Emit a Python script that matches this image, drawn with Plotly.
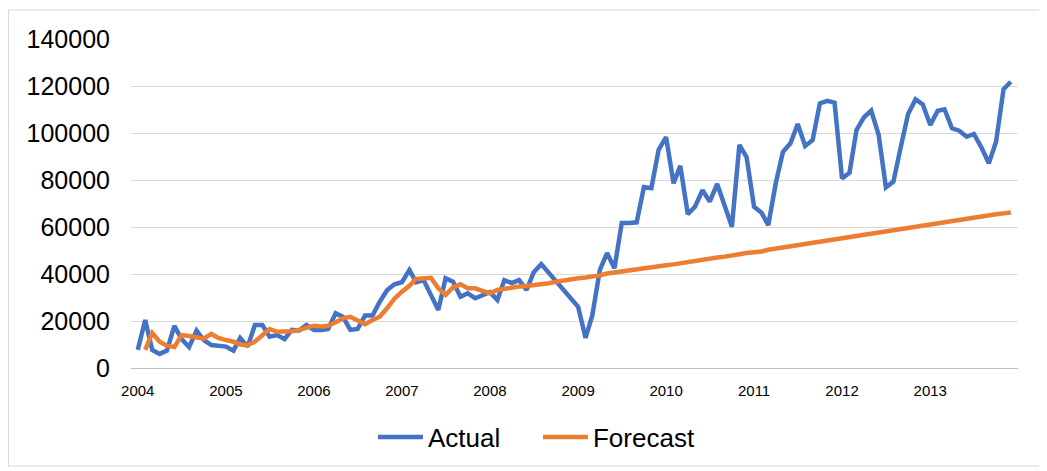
import plotly.graph_objects as go
import pandas as pd

months = pd.date_range("2004-01-01", periods=120, freq="MS").strftime("%Y-%m-%d").tolist()

actual = [
    7700, 20400, 7700, 6000, 7400, 17900, 12300, 8900, 15900, 11900, 9800, 9400,
    9100, 7400, 12800, 9100, 18300, 18300, 13300, 14000, 12300, 16200, 16000, 18300,
    16200, 16200, 16600, 23300, 21800, 16200, 16600, 22300, 22300, 28200, 33200, 35600,
    36500, 41700, 36500, 37400, 31100, 24700, 38200, 36700, 30300, 31800, 29700, 31100,
    32300, 28900, 37400, 36100, 37400, 33200, 40800, 44200, 40400, 37000, 33200, 29800,
    26000, 12800, 22500, 41700, 48900, 42500, 61700, 61700, 62000, 77000, 76500, 92800,
    98200, 78600, 86000, 65500, 68600, 75700, 70800, 78300, 69400, 60100, 94900, 89700,
    68600, 66100, 60800, 78600, 92000, 95600, 103800, 94500, 97000, 112600, 113700, 112900,
    80700, 83100, 101300, 106700, 109500, 99100, 76900, 79300, 94200, 108100, 114300, 112200,
    103400, 109500, 110100, 102000, 101000, 98400, 99600, 93900, 87100, 96300, 118600, 121800,
]

forecast = [
    None, 7700, 14900, 11200, 9500, 8900, 14000, 13600, 13000, 12500, 14500, 12800,
    11900, 11200, 10000, 9800, 11200, 14000, 16600, 15400, 15400, 15600, 16200, 17000,
    18000, 17700, 18000, 19500, 21100, 21800, 20400, 18600, 20400, 21800, 25500, 29500,
    32500, 35000, 37900, 38200, 38400, 33900, 31100, 34300, 35600, 33900, 33900, 32800,
    31800, 33200, 33800, 34300, 34700, 34900, 35200, 35500, 36100, 36700, 37300, 37800,
    38200, 38500, 38800, 39400, 40200, 40700, 41200, 41700, 42000, 42400, 42900, 43400,
    43700, 44100, 44600, 45100, 45400, 45800, 46500, 47000, 47400, 48100, 48400, 48900,
    49100, 49600, 50300, 50800, 51300, 51900, 52300, 52600, 53200, 53700, 54300, 54800,
    55400, 55800, 56000, 56600, 57300, 57900, 58400, 58900, 59300, 59500, 60100, 60800,
    61400, 61900, 62300, 62600, 63000, 63600, 64100, 64500, 64900, 65400, 65800, 66200,
]

y_ticks = [0, 20000, 40000, 60000, 80000, 100000, 120000, 140000]

BLUE = "#4472C4"
ORANGE = "#ED7D31"
FONT = "Liberation Sans, Arial, sans-serif"

fig = go.Figure()
fig.add_trace(go.Scatter(x=months, y=actual, mode="lines", name="Actual",
                         line=dict(color=BLUE, width=4.5)))
fig.add_trace(go.Scatter(x=months, y=forecast, mode="lines", name="Forecast",
                         line=dict(color=ORANGE, width=4.5)))

fig.update_layout(
    width=1047, height=471,
    margin=dict(l=123, r=37, t=31, b=111),
    paper_bgcolor="white", plot_bgcolor="white",
    font=dict(family=FONT, color="#000000"),
    showlegend=True,
    legend=dict(orientation="h", x=0.2728, xanchor="left", y=-0.21, yanchor="middle",
                font=dict(size=26, family=FONT, color="#000000"), itemwidth=45,
                entrywidth=105, entrywidthmode="pixels",
                traceorder="normal"),
    shapes=[dict(type="rect", xref="paper", yref="paper",
                 x0=-0.1381, x1=1.0248, y0=-0.298, y1=1.088,
                 line=dict(color="#d9d9d9", width=1), fillcolor="rgba(0,0,0,0)")],
)

fig.update_xaxes(
    type="date",
    range=["2003-12-04", "2013-12-31"],
    tickformat="%Y", dtick="M12", tick0="2004-01-01",
    showgrid=False, showline=True, linecolor="#bfbfbf", linewidth=1,
    ticks="", tickfont=dict(size=15, family=FONT, color="#000000"),
    ticklabelstandoff=9,
)
fig.update_yaxes(
    range=[0, 140000], tickvals=y_ticks, ticktext=[str(v) for v in y_ticks],
    showgrid=True, gridcolor="#d9d9d9", gridwidth=1,
    zeroline=False, showline=False, ticks="",
    tickfont=dict(size=25, family=FONT, color="#000000"),
    ticklabelstandoff=20,
)

fig.write_html("out.html")
